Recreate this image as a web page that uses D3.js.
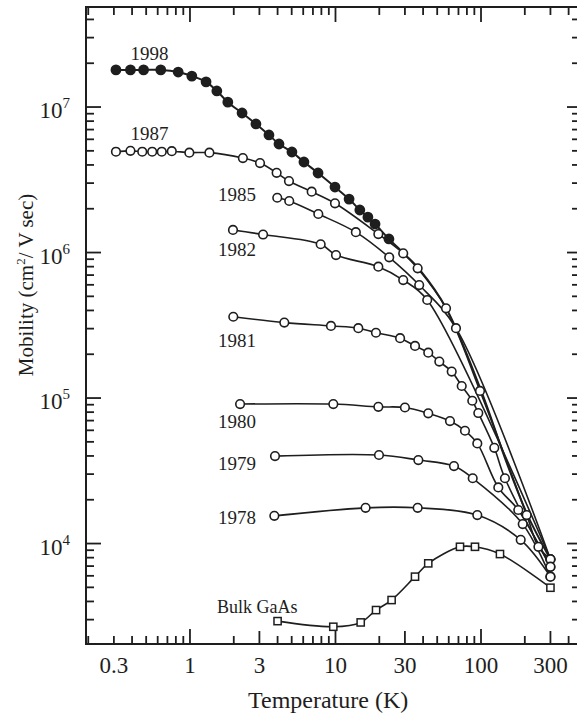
<!DOCTYPE html>
<meta charset="utf-8">
<body style="margin:0; background:#fff">
<script src="https://cdn.jsdelivr.net/npm/d3@7"></script>
<script>
// values: temperature (K), mobility (cm2/V sec)
var t1998  = [0.31,0.39,0.48,0.63,0.83,1.03,1.29,1.53,1.82,2.28,2.84,3.49,4.09,5.02,6.07,7.59,9.92,12.4,14.7,16.7,18.7,23.3];
var mu1998 = [1.8e7,1.8e7,1.8e7,1.8e7,1.74e7,1.63e7,1.49e7,1.29e7,1.08e7,9.1e6,7.65e6,6.43e6,5.57e6,4.91e6,4.19e6,3.52e6,2.82e6,2.33e6,1.96e6,1.75e6,1.57e6,1.24e6];
// 1998 fit continues without symbols
var tail1998T  = [30,38,58,100,150,210,300];
var tail1998Mu = [9.7e5,7.6e5,4.1e5,1.13e5,3.6e4,1.55e4,7.8e3];

var t1987  = [0.31,0.39,0.47,0.55,0.64,0.75,0.99,1.36,2.31,3.03,3.94,4.79,6.86,9.92,19.7,29.2,36.7,57.5,98.4,206,248,300];
var mu1987 = [4.93e6,5.0e6,4.93e6,4.93e6,4.93e6,4.97e6,4.86e6,4.86e6,4.46e6,4.12e6,3.53e6,3.1e6,2.62e6,2.18e6,1.34e6,9.87e5,7.79e5,4.14e5,1.12e5,1.57e4,9.5e3,7.8e3];

var t1985  = [3.98,4.81,7.62,13.8,23.4,37.6,67.3,300];
var mu1985 = [2.38e6,2.26e6,1.84e6,1.38e6,9.27e5,5.98e5,3.02e5,7.8e3];

var t1982  = [1.975,3.18,7.91,10.08,19.7,29.2,42.7,300];
var mu1982 = [1.43e6,1.33e6,1.14e6,9.61e5,7.99e5,6.47e5,4.72e5,7.8e3];

var t1981  = [1.985,4.45,9.31,14.35,18.97,27.8,35.2,43.4,51.7,62.9,73.7,87.1,95.8,123.4,146,300];
var mu1981 = [3.62e5,3.3e5,3.13e5,3.02e5,2.81e5,2.58e5,2.28e5,2.05e5,1.78e5,1.52e5,1.21e5,9.58e4,7.89e4,4.55e4,2.81e4,6.9e3];

var t1980  = [2.21,9.66,19.7,30,43.4,61.2,77.6,94.3,131.5,180.4,300];
var mu1980 = [9.09e4,9.09e4,8.7e4,8.61e4,7.85e4,6.95e4,5.96e4,4.88e4,2.43e4,1.7e4,6.93e3];

var t1979  = [3.84,19.9,37.1,65.2,87.7,193.5,300];
var mu1979 = [3.99e4,4.06e4,3.75e4,3.41e4,2.81e4,1.36e4,5.92e3];

var t1978  = [3.8,16.1,36.7,94.3,187.4,300];
var mu1978 = [1.55e4,1.76e4,1.76e4,1.57e4,1.06e4,5.92e3];

var tBulk  = [4.0,9.66,14.9,19.0,24.3,35.2,43.4,71.7,90.9,135,300];
var muBulk = [2.93e3,2.68e3,2.87e3,3.49e3,4.09e3,5.92e3,7.31e3,9.5e3,9.5e3,8.47e3,4.97e3];

// curve labels
var labelText = ["1998","1987","1985","1982","1981","1980","1979","1978","Bulk GaAs"];
var labelT    = [0.39,0.39,2.84,2.84,2.84,2.84,2.84,2.84,1.533];
var labelMu   = [2.1e7,5.93e6,2.26e6,9.46e5,2.24e5,6.22e4,3.2e4,1.36e4,3.33e3];

// tick labels
var xTickValues = [0.3,1,3,10,30,100,300];
var xTickLabels = ["0.3","1","3","10","30","100","300"];
var yTickValues = [1e4,1e5,1e6,1e7];
var yTickExp    = ["4","5","6","7"];

var W = 577, H = 717;
var margin = {top: 7, left: 86, right: -1, bottom: 73};
var width = W - margin.left - margin.right,
    height = H - margin.top - margin.bottom;
var font = "'Liberation Serif', 'Times New Roman', serif";
var ink = "#1e1e1e";

var svg = d3.select("body").append("svg")
    .attr("width", W).attr("height", H)
    .style("display", "block");

var g = svg.append("g")
    .attr("transform", "translate(" + margin.left + "," + margin.top + ")");

var x = d3.scaleLog().domain([0.193, 464]).range([0, width]);
var y = d3.scaleLog().domain([2.04e3, 4.87e7]).range([height, 0]);

function zip(ts, ms) { return ts.map(function(t, i) { return [t, ms[i]]; }); }

var series = [
  {pts: zip(t1998, mu1998), line: zip(t1998, mu1998).concat(zip(tail1998T, tail1998Mu)), mark: "filled"},
  {pts: zip(t1987, mu1987), mark: "open"},
  {pts: zip(t1985, mu1985), mark: "open"},
  {pts: zip(t1982, mu1982), mark: "open"},
  {pts: zip(t1981, mu1981), mark: "open"},
  {pts: zip(t1980, mu1980), mark: "open"},
  {pts: zip(t1979, mu1979), mark: "open"},
  {pts: zip(t1978, mu1978), mark: "open"},
  {pts: zip(tBulk, muBulk), mark: "square"}
];

// frame
g.append("rect")
    .attr("width", width).attr("height", height)
    .attr("fill", "none").attr("stroke", ink).attr("stroke-width", 2);

// tick marks, all pointing inward
function isDecade(v) { return Math.abs(Math.log10(v) - Math.round(Math.log10(v))) < 1e-6; }
function isThree(v) { return Math.abs(Math.log10(v / 3) - Math.round(Math.log10(v / 3))) < 1e-6; }

var xt = x.ticks();
var yt = y.ticks();

g.append("g").selectAll("line").data(xt).join("line")
    .attr("x1", function(d) { return x(d); }).attr("x2", function(d) { return x(d); })
    .attr("y1", height)
    .attr("y2", function(d) { return height - (isDecade(d) ? 15 : (isThree(d) && d > 1 ? 13 : 8)); })
    .attr("stroke", ink).attr("stroke-width", 1.8);

g.append("g").selectAll("line").data(xt).join("line")
    .attr("x1", function(d) { return x(d); }).attr("x2", function(d) { return x(d); })
    .attr("y1", 0)
    .attr("y2", function(d) { return isDecade(d) ? 15 : 8; })
    .attr("stroke", ink).attr("stroke-width", 1.8);

g.append("g").selectAll("line").data(yt).join("line")
    .attr("y1", function(d) { return y(d); }).attr("y2", function(d) { return y(d); })
    .attr("x1", 0)
    .attr("x2", function(d) { return isDecade(d) ? 15 : 8; })
    .attr("stroke", ink).attr("stroke-width", 1.8);

g.append("g").selectAll("line").data(yt).join("line")
    .attr("y1", function(d) { return y(d); }).attr("y2", function(d) { return y(d); })
    .attr("x1", width)
    .attr("x2", function(d) { return width - (isDecade(d) ? 11 : 6); })
    .attr("stroke", ink).attr("stroke-width", 1.8);

// x tick labels
g.append("g").selectAll("text").data(xTickValues).join("text")
    .attr("x", function(d) { return x(d); })
    .attr("y", height + 29)
    .attr("text-anchor", "middle")
    .style("font-family", font).style("font-size", "23px").attr("fill", ink)
    .text(function(d, i) { return xTickLabels[i]; });

// y tick labels, 10 with superscript exponent
var yl = g.append("g").selectAll("text").data(yTickValues).join("text")
    .attr("x", -16)
    .attr("y", function(d) { return y(d) + 11; })
    .attr("text-anchor", "end")
    .style("font-family", font).style("font-size", "23px").attr("fill", ink);
yl.append("tspan").text("10");
yl.append("tspan").attr("dy", -10).style("font-size", "15px")
    .text(function(d, i) { return yTickExp[i]; });

// axis titles
g.append("text")
    .attr("x", x(8.9)).attr("y", height + 64)
    .attr("text-anchor", "middle")
    .style("font-family", font).style("font-size", "24px").attr("fill", ink)
    .text("Temperature (K)");

var yt0 = g.append("text")
    .attr("transform", "translate(-53,278) rotate(-90)")
    .attr("text-anchor", "middle")
    .style("font-family", font).style("font-size", "21px").attr("fill", ink);
yt0.append("tspan").text("Mobility (cm");
yt0.append("tspan").attr("dy", -8).style("font-size", "13px").text("2");
yt0.append("tspan").attr("dy", 8).text("/ V sec)");

// curves
var line = d3.line()
    .x(function(d) { return x(d[0]); })
    .y(function(d) { return y(d[1]); })
    .curve(d3.curveCatmullRom.alpha(0.5));

g.append("g").selectAll("path").data(series).join("path")
    .attr("d", function(s) { return line(s.line || s.pts); })
    .attr("fill", "none").attr("stroke", ink)
    .attr("stroke-width", function(s) { return s.mark === "filled" ? 2 : 1.6; });

// symbols
series.forEach(function(s) {
  var sg = g.append("g");
  if (s.mark === "square") {
    sg.selectAll("rect").data(s.pts).join("rect")
        .attr("x", function(d) { return x(d[0]) - 3.6; })
        .attr("y", function(d) { return y(d[1]) - 3.6; })
        .attr("width", 7.2).attr("height", 7.2)
        .attr("fill", "#fff").attr("stroke", ink).attr("stroke-width", 1.5);
  } else {
    sg.selectAll("circle").data(s.pts).join("circle")
        .attr("cx", function(d) { return x(d[0]); })
        .attr("cy", function(d) { return y(d[1]); })
        .attr("r", s.mark === "filled" ? 4.6 : 4.3)
        .attr("fill", s.mark === "filled" ? ink : "#fff")
        .attr("stroke", ink).attr("stroke-width", 1.6);
  }
});

// curve labels
g.append("g").selectAll("text").data(labelText).join("text")
    .attr("x", function(d, i) { return x(labelT[i]); })
    .attr("y", function(d, i) { return y(labelMu[i]); })
    .attr("text-anchor", function(d, i) { return (i < 2 || i === 8) ? "start" : "end"; })
    .style("font-family", font)
    .style("font-size", function(d, i) { return i === 8 ? "18px" : "19px"; })
    .attr("fill", ink)
    .text(function(d) { return d; });
</script>
</body>
